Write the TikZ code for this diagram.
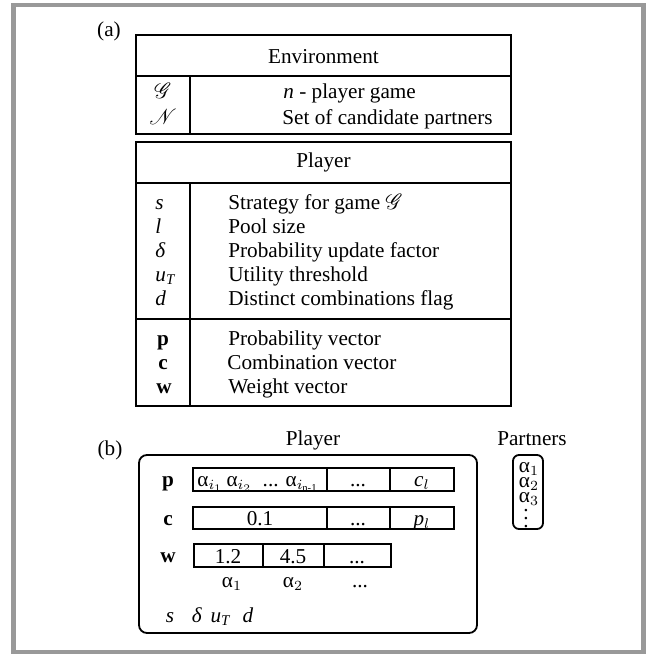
\documentclass[tikz,border=0pt]{standalone}
\usepackage{fontspec}
\setmainfont{Liberation Serif}
\usepackage{amsmath}
\usepackage{mathrsfs}
\usetikzlibrary{positioning}

\begin{document}
\begin{tikzpicture}[x=0.5pt, y=-0.5pt,
    every node/.style={font=\fontsize{10.6}{12}\selectfont, inner sep=0pt},
    txt/.style={anchor=base},
    lft/.style={anchor=base west},
    tight/.style={anchor=base, text height=4.6pt, text depth=1.4pt},
    rule/.style={line width=0.9pt},
    frame/.style={line width=2.3pt, draw=black!40}]
  \useasboundingbox (0,0) rectangle (654,654);
  \draw[frame] (13.5,5) rectangle (643.5,652);

  % (a) environment table
  \node[txt] (a) at (109,36) {(a)};
  \draw[rule] (136,35) rectangle (511,134);
  \draw[rule] (136,76) -- (511,76);
  \draw[rule] (190,76) -- (190,134);
  \node[txt] (envhead) at (323.5,63) {Environment};
  \node[txt] (G)  at (163,98)  {$\mathscr{G}$};
  \node[txt] (N)  at (163,124) {$\mathscr{N}$};
  \node[lft] (Gd) at (283,98)  {\textit{n} - player game};
  \node[lft] (Nd) at (282,124) {Set of candidate partners};

  % (a) player table
  \draw[rule] (136,142) rectangle (511,406);
  \draw[rule] (136,183) -- (511,183);
  \draw[rule] (136,319) -- (511,319);
  \draw[rule] (190,183) -- (190,406);
  \node[txt] (plhead) at (323.5,167) {Player};
  \node[lft] (s)  at (155,209) {\textit{s}};
  \node[lft] (l)  at (155,233) {\textit{l}};
  \node[lft] (dl) at (155,257) {\textit{δ}};
  \node[lft] (uT) at (155,281) {\textit{u}\textsubscript{\textit{T}}};
  \node[lft] (d)  at (155,305) {\textit{d}};
  \node[lft] (sd)  at (228,209) {Strategy for game $\mathscr{G}$};
  \node[lft] (ld)  at (228,233) {Pool size};
  \node[lft] (dld) at (228,257) {Probability update factor};
  \node[lft] (uTd) at (228,281) {Utility threshold};
  \node[lft] (dd)  at (228,305) {Distinct combinations flag};
  \node[txt] (p) at (163,345) {\textbf{p}};
  \node[txt] (c) at (163,369) {\textbf{c}};
  \node[txt] (w) at (164,393) {\textbf{w}};
  \node[lft] (pd) at (228,345) {Probability vector};
  \node[lft] (cd) at (227,369) {Combination vector};
  \node[lft] (wd) at (228,393) {Weight vector};

  % (b) player
  \node[txt] (b) at (110,455) {(b)};
  \node[txt] (plabel) at (313,445) {Player};
  \draw[rule, rounded corners=4pt] (139,455) rectangle (477,633);
  \node[txt] (pb) at (168,486) {\textbf{p}};
  \node[txt] (cb) at (168,525) {\textbf{c}};
  \node[txt] (wb) at (168,562) {\textbf{w}};

  \draw[rule] (193,468) rectangle (454,491);
  \draw[rule] (327,468) -- (327,491);
  \draw[rule] (390,468) -- (390,491);
  \node[txt] (p1) at (258,486) {α$_{i_1}$\,α$_{i_2}$ ~... α$_{i_{\text{n-1}}}$};
  \node[txt] (p2) at (358,486) {...};
  \node[txt] (p3) at (422,486) {\textit{c}$_l$};

  \draw[rule] (193,507) rectangle (454,529);
  \draw[rule] (327,507) -- (327,529);
  \draw[rule] (390,507) -- (390,529);
  \node[txt] (c1) at (260,525) {0.1};
  \node[txt] (c2) at (358,525) {...};
  \node[txt] (c3) at (422,525) {\textit{p}$_l$};

  \draw[rule] (194,544) rectangle (391,567);
  \draw[rule] (263,544) -- (263,567);
  \draw[rule] (324,544) -- (324,567);
  \node[txt] (w1) at (228,563) {1.2};
  \node[txt] (w2) at (293,563) {4.5};
  \node[txt] (w3) at (357,563) {...};
  \node[txt] (al1) at (232,587) {α$_1$};
  \node[txt] (al2) at (293,587) {α$_2$};
  \node[txt] (al3) at (360,587) {...};

  \node[txt] (sb)  at (170,622) {\textit{s}};
  \node[txt] (dlb) at (197,622) {\textit{δ}};
  \node[txt] (uTb) at (221,622) {\textit{u}\textsubscript{\textit{T}}};
  \node[txt] (db)  at (248,622) {\textit{d}};

  % (b) partners
  \node[txt] (ptlabel) at (532,445) {Partners};
  \node[draw, rule, rounded corners=3pt, minimum width=15pt, minimum height=37pt]
        (partners) at (528,492) {};
  \node[tight] (pt1) at (529,472) {α$_1$};
  \node[tight] (pt2) at (529,487) {α$_2$};
  \node[tight] (pt3) at (529,502) {α$_3$};
  \node[anchor=south] (pt4) at (526,528)
        {\vbox{\baselineskip4pt\lineskiplimit0pt\hbox{.}\hbox{.}\hbox{.}}};
\end{tikzpicture}
\end{document}
